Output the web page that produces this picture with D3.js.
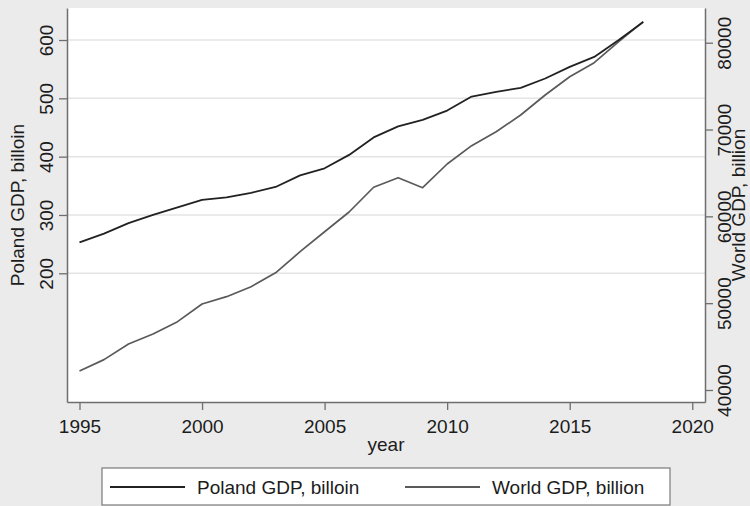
<!DOCTYPE html>
<html>
<head>
<meta charset="utf-8">
<script src="https://cdn.jsdelivr.net/npm/d3@7"></script>
<style>
  html, body { margin: 0; padding: 0; background: #ebebeb; }
  svg { display: block; font-family: "Liberation Sans", Arial, Helvetica, sans-serif; }
</style>
</head>
<body>
<svg id="chart" width="750" height="506"></svg>
<script>
// GDP series, 1995-2018 (billions, constant prices)
const years = [1995, 1996, 1997, 1998, 1999, 2000, 2001, 2002, 2003, 2004, 2005, 2006,
               2007, 2008, 2009, 2010, 2011, 2012, 2013, 2014, 2015, 2016, 2017, 2018];
const polandGDP = [253, 268, 286, 300, 313, 326, 330, 338, 348, 368, 380, 403,
                   433, 452, 463, 479, 503, 511, 518, 534, 554, 571, 600, 631];
const worldGDP = [42200, 43500, 45300, 46450, 47870, 49900, 50750, 51900, 53500, 55930, 58230, 60500,
                  63350, 64450, 63300, 66030, 68140, 69750, 71670, 73980, 76080, 77700, 80120, 82420];

const xTicks = [1995, 2000, 2005, 2010, 2015, 2020];
const leftTicks = [200, 300, 400, 500, 600];
const rightTicks = [40000, 50000, 60000, 70000, 80000];

const seriesNames = ["Poland GDP, billoin", "World GDP, billion"];
const xTitle = "year";
const leftTitle = "Poland GDP, billoin";
const rightTitle = "World GDP, billion";

const svg = d3.select("#chart");
const W = 750, H = 506;
const plot = { left: 67, right: 705, top: 8, bottom: 402 };

const inkColor = "#1c1c1c";
const axisColor = "#6e6e6e";
const gridColor = "#e4e4e4";
const polandColor = "#222222";
const worldColor = "#5a5a5a";
const fontSize = 19;

// Scales: the domains extend past the tick range so the tick marks sit inside the plot box
const x = d3.scaleLinear().domain([1994.49, 2020.52]).range([plot.left, plot.right]);
const yL = d3.scaleLinear().domain([-20.7, 654.9]).range([plot.bottom, plot.top]);
const yR = d3.scaleLinear().domain([38618, 83997]).range([plot.bottom, plot.top]);

// Outer background
svg.append("rect").attr("width", W).attr("height", H).attr("fill", "#ebebeb");

// Plot region
svg.append("rect")
  .attr("x", plot.left).attr("y", plot.top)
  .attr("width", plot.right - plot.left).attr("height", plot.bottom - plot.top)
  .attr("fill", "#ffffff");

// Horizontal gridlines at the left-axis ticks
svg.append("g")
  .selectAll("line")
  .data(leftTicks)
  .join("line")
  .attr("x1", plot.left).attr("x2", plot.right)
  .attr("y1", d => yL(d)).attr("y2", d => yL(d))
  .attr("stroke", gridColor).attr("stroke-width", 1.5);

// Series lines
const polandLine = d3.line().x((d, i) => x(years[i])).y(d => yL(d));
const worldLine = d3.line().x((d, i) => x(years[i])).y(d => yR(d));

svg.append("path").datum(worldGDP)
  .attr("d", worldLine).attr("fill", "none")
  .attr("stroke", worldColor).attr("stroke-width", 1.7).attr("stroke-linejoin", "round");

svg.append("path").datum(polandGDP)
  .attr("d", polandLine).attr("fill", "none")
  .attr("stroke", polandColor).attr("stroke-width", 1.8).attr("stroke-linejoin", "round");

// Axes
function styleAxis(g) {
  g.select(".domain").attr("stroke", axisColor).attr("stroke-width", 1.5);
  g.selectAll(".tick line").attr("stroke", axisColor).attr("stroke-width", 1.3);
  g.selectAll(".tick text").attr("fill", inkColor)
    .style("font-size", fontSize + "px")
    .style("font-family", "'Liberation Sans', Arial, Helvetica, sans-serif");
}

const xAxis = svg.append("g")
  .attr("transform", `translate(0,${plot.bottom})`)
  .call(d3.axisBottom(x).tickValues(xTicks).tickFormat(d3.format("d"))
    .tickSize(8).tickSizeOuter(0).tickPadding(10));
styleAxis(xAxis);
xAxis.selectAll(".tick text").attr("dy", "0.71em");

const leftAxis = svg.append("g")
  .attr("transform", `translate(${plot.left},0)`)
  .call(d3.axisLeft(yL).tickValues(leftTicks).tickFormat(d3.format("d"))
    .tickSize(8).tickSizeOuter(0));
styleAxis(leftAxis);
leftAxis.selectAll(".tick text")
  .attr("transform", "rotate(-90)")
  .attr("x", 0).attr("y", -14).attr("dy", 0)
  .attr("text-anchor", "middle");

const rightAxis = svg.append("g")
  .attr("transform", `translate(${plot.right},0)`)
  .call(d3.axisRight(yR).tickValues(rightTicks).tickFormat(d3.format("d"))
    .tickSize(8).tickSizeOuter(0));
styleAxis(rightAxis);
rightAxis.selectAll(".tick text")
  .attr("transform", "rotate(-90)")
  .attr("x", 0).attr("y", 26).attr("dy", 0)
  .attr("text-anchor", "middle");

// Axis titles
const midY = (plot.top + plot.bottom) / 2;
svg.append("text")
  .attr("x", (plot.left + plot.right) / 2).attr("y", 451)
  .attr("text-anchor", "middle").attr("fill", inkColor)
  .style("font-size", fontSize + "px")
  .text(xTitle);

svg.append("text")
  .attr("transform", `translate(24,${midY}) rotate(-90)`)
  .attr("text-anchor", "middle").attr("fill", inkColor)
  .style("font-size", fontSize + "px")
  .text(leftTitle);

svg.append("text")
  .attr("transform", `translate(745,${midY}) rotate(-90)`)
  .attr("text-anchor", "middle").attr("fill", inkColor)
  .style("font-size", fontSize + "px")
  .text(rightTitle);

// Legend
const legend = svg.append("g");
legend.append("rect")
  .attr("x", 102).attr("y", 468).attr("width", 568).attr("height", 37)
  .attr("fill", "#ffffff").attr("stroke", "#7a7a7a").attr("stroke-width", 1.2);

const legendItems = [
  { name: seriesNames[0], color: polandColor, x0: 110 },
  { name: seriesNames[1], color: worldColor, x0: 405 }
];
const item = legend.selectAll("g.item").data(legendItems).join("g").attr("class", "item");
item.append("line")
  .attr("x1", d => d.x0).attr("x2", d => d.x0 + 75)
  .attr("y1", 487).attr("y2", 487)
  .attr("stroke", d => d.color).attr("stroke-width", 1.8);
item.append("text")
  .attr("x", d => d.x0 + 87).attr("y", 494)
  .attr("fill", inkColor)
  .style("font-size", fontSize + "px")
  .text(d => d.name);
</script>
</body>
</html>
